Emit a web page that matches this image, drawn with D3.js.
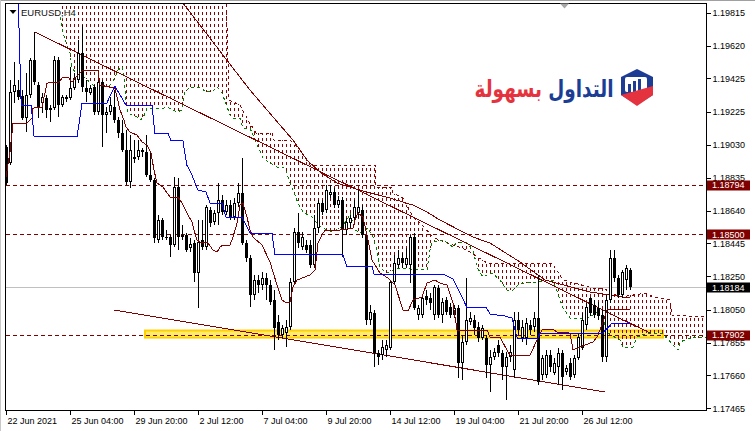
<!DOCTYPE html>
<html><head><meta charset="utf-8">
<script src="https://cdn.jsdelivr.net/npm/d3@7"></script>
<style>
html,body{margin:0;padding:0;background:#fff;}
svg{display:block;}
</style></head><body>
<svg id="c" width="755" height="431"></svg>
<script>
// ---------- data (EURUSD H4) ----------
const openP=[1.19017,1.18922,1.19344,1.19355,1.19320,1.19189,1.19326,1.19534,1.19385,1.19278,1.19308,1.19237,1.19248,1.19534,1.19266,1.19314,1.19308,1.19367,1.19415,1.19575,1.19367,1.19338,1.19373,1.19225,1.19403,1.19207,1.19225,1.19254,1.19177,1.19100,1.18999,1.18809,1.18952,1.18957,1.18999,1.18987,1.18851,1.18821,1.18464,1.18583,1.18482,1.18482,1.18435,1.18779,1.18494,1.18494,1.18417,1.18447,1.18268,1.18464,1.18423,1.18643,1.18571,1.18625,1.18702,1.18631,1.18672,1.18601,1.18684,1.18744,1.18447,1.18358,1.18138,1.18227,1.18197,1.18239,1.18197,1.18108,1.17977,1.17900,1.17912,1.17948,1.18215,1.18512,1.18423,1.18435,1.18435,1.18316,1.18536,1.18684,1.18643,1.18732,1.18750,1.18672,1.18702,1.18524,1.18565,1.18595,1.18625,1.18643,1.18494,1.17989,1.18031,1.17793,1.17781,1.17811,1.17823,1.18215,1.18316,1.18358,1.18316,1.18316,1.18482,1.18019,1.18019,1.18132,1.18120,1.18019,1.18179,1.18019,1.18108,1.18066,1.18019,1.18061,1.17734,1.17859,1.17977,1.17989,1.17948,1.17882,1.17882,1.17722,1.17769,1.17841,1.17793,1.17710,1.17769,1.17692,1.17989,1.17882,1.17882,1.17960,1.17948,1.18001,1.17662,1.17662,1.17781,1.17674,1.17710,1.17793,1.17680,1.17734,1.17662,1.17763,1.17823,1.17960,1.18120,1.18078,1.18061,1.18019,1.17769,1.18108,1.18358,1.18239,1.18138,1.18227,1.18286];
const highP=[1.19029,1.19415,1.19522,1.19415,1.19355,1.19456,1.19545,1.19700,1.19403,1.19338,1.19326,1.19266,1.19557,1.19551,1.19326,1.19326,1.19492,1.19456,1.19652,1.19742,1.19415,1.19385,1.19385,1.19415,1.19415,1.19254,1.19314,1.19355,1.19195,1.19177,1.19118,1.19088,1.19058,1.19058,1.19011,1.19088,1.18981,1.18833,1.18613,1.18595,1.18524,1.18494,1.18839,1.18833,1.18554,1.18506,1.18476,1.18464,1.18583,1.18583,1.18672,1.18660,1.18643,1.18803,1.18732,1.18702,1.18702,1.18714,1.18803,1.18952,1.18464,1.18375,1.18257,1.18257,1.18274,1.18268,1.18227,1.18167,1.18019,1.17960,1.17989,1.18239,1.18536,1.18625,1.18512,1.18464,1.18464,1.18613,1.18702,1.18702,1.18791,1.18791,1.18773,1.18726,1.18720,1.18595,1.18613,1.18702,1.18761,1.18672,1.18506,1.18078,1.18049,1.17811,1.17870,1.17870,1.18227,1.18375,1.18405,1.18387,1.18417,1.18494,1.18506,1.18078,1.18138,1.18167,1.18150,1.18197,1.18197,1.18120,1.18126,1.18090,1.18078,1.18078,1.17900,1.18239,1.18037,1.18019,1.17977,1.17960,1.17900,1.17811,1.17823,1.17870,1.17811,1.17799,1.17841,1.18037,1.18037,1.17989,1.18001,1.17989,1.18037,1.18257,1.17781,1.17811,1.17811,1.17763,1.17823,1.17811,1.17722,1.17763,1.17781,1.17912,1.18031,1.18090,1.18126,1.18108,1.18096,1.18049,1.18138,1.18405,1.18405,1.18257,1.18286,1.18316,1.18298];
const lowP=[1.18791,1.18910,1.19278,1.19296,1.19177,1.19106,1.19308,1.19385,1.19189,1.19219,1.19189,1.19165,1.19237,1.19195,1.19254,1.19284,1.19296,1.19355,1.19397,1.19344,1.19284,1.19326,1.19207,1.19207,1.19017,1.19100,1.19207,1.19159,1.19070,1.18987,1.18791,1.18773,1.18922,1.18940,1.18957,1.18839,1.18809,1.18447,1.18447,1.18464,1.18464,1.18363,1.18423,1.18405,1.18464,1.18393,1.18393,1.18215,1.18061,1.18405,1.18405,1.18542,1.18554,1.18554,1.18613,1.18613,1.18583,1.18583,1.18660,1.18435,1.18334,1.18066,1.18108,1.18150,1.18167,1.18108,1.18078,1.17811,1.17870,1.17882,1.17829,1.17930,1.18197,1.18417,1.18405,1.18387,1.18298,1.18298,1.18506,1.18613,1.18625,1.18714,1.18655,1.18655,1.18363,1.18494,1.18536,1.18571,1.18595,1.18476,1.17960,1.17960,1.17710,1.17722,1.17752,1.17769,1.17811,1.18197,1.18298,1.18298,1.18298,1.18209,1.18049,1.17989,1.18001,1.18078,1.18049,1.17989,1.18001,1.17971,1.18019,1.18001,1.18001,1.17645,1.17633,1.17841,1.17960,1.17900,1.17859,1.17870,1.17645,1.17562,1.17752,1.17769,1.17633,1.17514,1.17740,1.17645,1.17900,1.17859,1.17841,1.17900,1.17918,1.17603,1.17633,1.17645,1.17680,1.17662,1.17603,1.17573,1.17662,1.17633,1.17645,1.17752,1.17811,1.17930,1.18013,1.18001,1.17989,1.17740,1.17740,1.18090,1.18215,1.18120,1.18120,1.18167,1.18167];
const closeP=[1.18803,1.19344,1.19385,1.19314,1.19189,1.19326,1.19534,1.19403,1.19248,1.19314,1.19237,1.19248,1.19534,1.19266,1.19314,1.19302,1.19367,1.19427,1.19575,1.19373,1.19344,1.19367,1.19225,1.19403,1.19207,1.19225,1.19266,1.19177,1.19100,1.18999,1.18809,1.18999,1.18957,1.18999,1.18987,1.18851,1.18821,1.18476,1.18583,1.18482,1.18476,1.18435,1.18779,1.18482,1.18482,1.18405,1.18441,1.18268,1.18453,1.18423,1.18660,1.18565,1.18625,1.18702,1.18631,1.18672,1.18601,1.18684,1.18744,1.18447,1.18358,1.18138,1.18227,1.18197,1.18239,1.18197,1.18096,1.17942,1.17900,1.17942,1.17948,1.18215,1.18512,1.18447,1.18482,1.18405,1.18316,1.18536,1.18684,1.18631,1.18761,1.18750,1.18672,1.18702,1.18524,1.18571,1.18595,1.18660,1.18660,1.18494,1.17989,1.18037,1.17793,1.17769,1.17829,1.17841,1.18215,1.18328,1.18358,1.18328,1.18358,1.18482,1.18061,1.18061,1.18120,1.18108,1.18090,1.18185,1.18019,1.18096,1.18037,1.18019,1.18061,1.17734,1.17859,1.17989,1.18001,1.17942,1.17882,1.17942,1.17722,1.17769,1.17799,1.17793,1.17710,1.17769,1.17799,1.17989,1.17930,1.17948,1.17971,1.17930,1.18001,1.17621,1.17763,1.17781,1.17710,1.17734,1.17793,1.17651,1.17704,1.17651,1.17763,1.17888,1.17989,1.18066,1.18031,1.18019,1.18013,1.17769,1.18108,1.18358,1.18239,1.18138,1.18274,1.18298,1.18185];

// Ichimoku lines: [bar index, price]
const tenkan=[[0,1.18839],[1,1.18987],[1.75,1.19159],[5.25,1.19159],[6.5,1.19189],[6.75,1.19248],[9,1.19254],[10.25,1.19397],[13.25,1.19403],[14,1.19427],[15.5,1.19433],[16.5,1.19403],[17.25,1.19427],[19.25,1.19474],[23,1.19474],[23.5,1.19385],[26,1.19373],[27.25,1.19367],[27.75,1.19314],[28.5,1.19237],[29.5,1.19177],[30,1.19136],[31,1.19106],[32.75,1.19088],[34,1.19047],[35.25,1.19029],[36.25,1.18981],[37,1.18880],[37.75,1.18803],[39.25,1.18779],[41,1.18720],[43,1.18720],[44,1.18684],[45.25,1.18625],[46.5,1.18571],[47,1.18524],[47.75,1.18464],[48.5,1.18453],[50.5,1.18447],[51.75,1.18405],[52.75,1.18393],[53.5,1.18423],[54.25,1.18435],[56,1.18435],[56.75,1.18482],[57.75,1.18565],[58.5,1.18672],[59.25,1.18684],[60.25,1.18601],[61,1.18524],[61.75,1.18482],[64,1.18435],[66,1.18334],[67.75,1.18197],[69,1.18108],[70.25,1.18090],[71,1.18096],[71.75,1.18185],[72.75,1.18227],[76,1.18257],[77.25,1.18286],[78,1.18447],[79,1.18494],[79.75,1.18524],[83.5,1.18524],[86.75,1.18536],[87.25,1.18583],[88,1.18625],[89.25,1.18601],[90.25,1.18494],[91.5,1.18346],[93.5,1.18268],[95.5,1.18239],[97.25,1.18197],[99.25,1.18049],[100.5,1.18043],[101.75,1.18108],[104,1.18126],[105.25,1.18209],[107.25,1.18227],[108.5,1.18209],[110.25,1.18197],[111.75,1.18090],[112.75,1.17930],[114.25,1.17930],[120.25,1.17930],[121,1.17888],[123.5,1.17888],[125.25,1.17811],[126,1.17781],[131,1.17781],[132.75,1.17870],[134,1.17930],[136.75,1.17936],[137.75,1.17918],[141,1.17912],[141.75,1.17811],[143.5,1.17829],[146.75,1.17859],[147.75,1.17888],[149,1.17960],[150.25,1.18049],[156,1.18049]];
const kijun=[[0,1.20009],[3,1.19938],[3.8,1.19266],[6.3,1.19266],[7,1.19082],[17.8,1.19082],[19,1.19278],[25.2,1.19278],[27.2,1.19379],[30,1.19266],[36.5,1.19266],[37.2,1.19100],[40.5,1.19100],[41.2,1.19058],[44.2,1.19058],[45.2,1.18910],[46.2,1.18868],[48,1.18761],[50,1.18750],[51,1.18684],[54,1.18684],[55,1.18601],[59,1.18601],[61,1.18506],[66.5,1.18506],[67.2,1.18381],[84.2,1.18381],[85.2,1.18310],[91.5,1.18310],[92,1.18262],[109.2,1.18262],[111.8,1.18233],[115.2,1.18066],[120,1.18066],[121,1.18025],[124.8,1.18013],[126.5,1.18001],[127.8,1.17882],[133,1.17882],[133.5,1.17912],[149.2,1.17912],[151.5,1.17971],[156,1.17971]];
const spanA=[[13.5,1.19789],[14.25,1.19694],[15.25,1.19623],[16,1.19575],[16.5,1.19492],[17.25,1.19462],[18,1.19456],[19,1.19433],[19.75,1.19427],[21.75,1.19385],[23.5,1.19373],[26,1.19385],[27.25,1.19427],[28,1.19474],[29,1.19492],[29.5,1.19433],[30,1.19266],[30.5,1.19219],[32.75,1.19195],[33.5,1.19177],[34.25,1.19189],[35.25,1.19248],[39.25,1.19248],[40.25,1.19254],[42.75,1.19225],[44,1.19237],[44.75,1.19344],[46,1.19373],[49,1.19373],[49.75,1.19344],[51.5,1.19344],[52.75,1.19373],[54,1.19338],[56,1.19207],[56.75,1.19189],[58.5,1.19189],[59.25,1.19130],[61,1.19130],[62.25,1.19058],[64.25,1.18952],[66,1.18922],[67.75,1.18898],[69.75,1.18892],[71,1.18803],[71.75,1.18761],[73,1.18684],[74.25,1.18631],[76.5,1.18601],[77.75,1.18565],[79,1.18536],[81.75,1.18512],[83.5,1.18536],[85.25,1.18583],[86,1.18625],[87.25,1.18524],[89,1.18506],[90.5,1.18536],[91.75,1.18482],[92.75,1.18405],[93.5,1.18298],[95.25,1.18268],[97.75,1.18298],[105.25,1.18286],[106,1.18405],[106.5,1.18453],[109.25,1.18464],[111.75,1.18423],[112.75,1.18453],[115.25,1.18447],[116.75,1.18405],[117.75,1.18304],[119.25,1.18245],[121.5,1.18268],[123.5,1.18227],[125.25,1.18167],[126.75,1.18167],[128.5,1.18209],[130.25,1.18209],[136.75,1.18227],[139.25,1.18061],[141,1.18001],[145.25,1.18001],[146.75,1.18019],[149,1.18049],[149.75,1.17948],[151,1.17900],[153.5,1.17870],[154.25,1.17829],[156.75,1.17829],[157.75,1.17888],[160.25,1.17912],[164,1.17912],[168,1.17811],[168.5,1.17859],[171,1.17882],[175,1.17888]];
const spanB=[[13.5,1.19949],[55,1.19949],[55.75,1.19296],[58.5,1.19266],[60.5,1.19177],[62.5,1.19100],[66.5,1.19100],[67,1.19058],[71,1.19058],[73.5,1.18999],[76,1.18910],[92.25,1.18910],[92.5,1.18779],[96.5,1.18779],[96.75,1.18744],[99.25,1.18714],[101.75,1.18601],[104,1.18554],[106.75,1.18482],[108.5,1.18464],[115.25,1.18405],[120.25,1.18328],[136.5,1.18328],[139.25,1.18227],[146.75,1.18179],[149.25,1.18179],[153.5,1.18126],[160.25,1.18150],[161.75,1.18126],[166,1.18108],[166.5,1.18019],[175,1.18007]];
const movingAvg=[[42.5,1.19926],[61,1.19355],[71.75,1.19058],[75.25,1.18940],[78.5,1.18868],[82.75,1.18803],[88.5,1.18761],[96,1.18714],[101.75,1.18672],[105.25,1.18631],[108.5,1.18583],[116.75,1.18482],[121,1.18447],[128.5,1.18334],[134.75,1.18227],[146,1.18156],[156,1.18120]];
const trendUpper=[[7.25,1.19700],[161,1.17912]];
const trendLower=[[27,1.18049],[149.75,1.17562]];
const bandRange=[34.75,164.25];
const bandPrices=[1.17927,1.17885];
const levels=[1.18794,1.18500,1.17902];
const bidPrice=1.18184;
const priceTicks=["1.19815","1.19620","1.19425","1.19225","1.19030","1.18835","1.18640","1.18445","1.18250","1.18050","1.17855","1.17660","1.17465"];
const timeTickIdx=[0,16,32,48,64,80,96,112,128,144];
const timeTickLabels=["22 Jun 2021","25 Jun 04:00","29 Jun 20:00","2 Jul 12:00","7 Jul 04:00","9 Jul 20:00","14 Jul 12:00","19 Jul 04:00","21 Jul 20:00","26 Jul 12:00"];
const symbolTitle="EURUSD,H4";
const logoText="التداول بسهولة";

// ---------- drawing ----------
const MAROON="#800000";
const FONT="'Liberation Sans',Arial,sans-serif";
const svg=d3.select("#c");
const xs=d3.scaleLinear().domain([0,156]).range([6,630]);
const ys=d3.scaleLinear().domain([1.19815,1.17465]).range([12.7,408.3]);
const line=d3.line().x(d=>xs(d[0])).y(d=>ys(d[1]));

svg.append("rect").attr("width",755).attr("height",431).attr("fill","#fff");
const defs=svg.append("defs");
defs.append("clipPath").attr("id","plot").append("rect").attr("x",6).attr("y",4).attr("width",700).attr("height",406);
const pat=defs.append("pattern").attr("id","hatch").attr("patternUnits","userSpaceOnUse")
  .attr("x",6).attr("y",0).attr("width",4).attr("height",6);
pat.append("rect").attr("x",0).attr("y",0).attr("width",1).attr("height",3).attr("fill","#8b0000");
const grad=defs.append("linearGradient").attr("id","logoGrad").attr("gradientUnits","userSpaceOnUse")
  .attr("x1",470).attr("x2",620).attr("y1",0).attr("y2",0);
const split=(546-470)/(620-470);
grad.append("stop").attr("offset",0).attr("stop-color","#e4333f");
grad.append("stop").attr("offset",split).attr("stop-color","#e4333f");
grad.append("stop").attr("offset",split).attr("stop-color","#1d3c93");
grad.append("stop").attr("offset",1).attr("stop-color","#1d3c93");

// window borders
svg.append("line").attr("x1",0).attr("x2",755).attr("y1",0.5).attr("y2",0.5).attr("stroke","#a0a0a0");
svg.append("line").attr("x1",0.5).attr("x2",0.5).attr("y1",0).attr("y2",431).attr("stroke","#c8c8c8");

const g=svg.append("g").attr("clip-path","url(#plot)");

// yellow band
g.append("rect").attr("x",xs(bandRange[0])).attr("width",xs(bandRange[1])-xs(bandRange[0]))
  .attr("y",ys(bandPrices[0])).attr("height",ys(bandPrices[1])-ys(bandPrices[0]))
  .attr("fill","#ffec6a").attr("stroke","#ffd000").attr("stroke-width",2);

// cloud
const poly=spanB.concat(spanA.slice().reverse()).map(d=>[xs(d[0]),ys(d[1])]);
g.append("path").attr("d",d3.line()(poly)+"Z").attr("fill","url(#hatch)").attr("shape-rendering","crispEdges");
g.append("path").attr("d",line(spanB)).attr("fill","none").attr("stroke","#8b0000").attr("stroke-dasharray","3,3").attr("shape-rendering","crispEdges");
g.append("path").attr("d",line(spanA)).attr("fill","none").attr("stroke","#008000").attr("stroke-dasharray","3,3").attr("shape-rendering","crispEdges");

// horizontal levels
levels.forEach(v=>{
  const y=Math.round(ys(v))+0.5;
  g.append("line").attr("x1",6).attr("x2",706).attr("y1",y).attr("y2",y)
   .attr("stroke",MAROON).attr("stroke-dasharray","4,3");
});
{
  const y=Math.round(ys(bidPrice))+0.5;
  g.append("line").attr("x1",6).attr("x2",706).attr("y1",y).attr("y2",y).attr("stroke","#c0c0c0");
}

// trend lines & MA
[trendUpper,trendLower,movingAvg].forEach(d=>{
  g.append("path").attr("d",line(d)).attr("fill","none").attr("stroke",MAROON).attr("stroke-width",1).attr("shape-rendering","crispEdges");
});

// candles
const cg=g.append("g").attr("shape-rendering","crispEdges");
openP.forEach((o,i)=>{
  const c=closeP[i],h=highP[i],l=lowP[i];
  const x=Math.round(xs(i));
  const yh=Math.round(ys(h)),yl=Math.round(ys(l));
  cg.append("rect").attr("x",x).attr("y",yh).attr("width",1).attr("height",Math.max(1,yl-yh)).attr("fill","#000");
  const yt=Math.round(ys(Math.max(o,c))),yb=Math.round(ys(Math.min(o,c)));
  if(c>o){
    if(yb-yt>=2){
      cg.append("rect").attr("x",x-1+0.5).attr("y",yt+0.5).attr("width",2).attr("height",yb-yt-1)
        .attr("fill","#fff").attr("stroke","#000").attr("stroke-width",1);
    } else {
      cg.append("rect").attr("x",x-1).attr("y",yt).attr("width",3).attr("height",Math.max(1,yb-yt+1)).attr("fill","#000");
    }
  } else {
    cg.append("rect").attr("x",x-1).attr("y",yt).attr("width",3).attr("height",Math.max(1,yb-yt)).attr("fill","#000");
  }
});

// ichimoku lines
g.append("path").attr("d",line(tenkan)).attr("fill","none").attr("stroke",MAROON).attr("shape-rendering","crispEdges");
g.append("path").attr("d",line(kijun)).attr("fill","none").attr("stroke","#0000ff").attr("shape-rendering","crispEdges");

// plot frame
svg.append("rect").attr("x",5.5).attr("y",3.5).attr("width",701).attr("height",407)
  .attr("fill","none").attr("stroke","#000").attr("shape-rendering","crispEdges");

// axes
const ya=svg.append("g").attr("transform","translate(706.5,0)")
  .call(d3.axisRight(ys).tickValues(priceTicks.map(Number)).tickFormat((d,k)=>priceTicks[k]).tickSize(4).tickPadding(2));
ya.select(".domain").remove();
ya.selectAll("text").attr("font-family",FONT).attr("font-size",9).attr("fill","#000");
ya.selectAll("line").attr("stroke","#000").attr("shape-rendering","crispEdges");

const xa=svg.append("g").attr("transform","translate(0,410.5)")
  .call(d3.axisBottom(xs).tickValues(timeTickIdx).tickFormat((d,k)=>timeTickLabels[k]).tickSize(4).tickPadding(3));
xa.select(".domain").remove();
xa.selectAll("text").attr("font-family",FONT).attr("font-size",9).attr("fill","#000").attr("text-anchor","start").attr("x",1);
xa.selectAll("line").attr("stroke","#000").attr("shape-rendering","crispEdges");

// price labels
function priceBox(v,bg){
  const y=ys(v);
  svg.append("rect").attr("x",707).attr("y",Math.round(y)-4.5).attr("width",43).attr("height",10).attr("fill",bg);
  svg.append("text").attr("x",712).attr("y",y+0.5).attr("dy","0.33em").attr("font-family",FONT).attr("font-size",9)
    .attr("fill","#fff").text(v.toFixed(5));
}
priceBox(levels[0],MAROON);
priceBox(levels[1],MAROON);
priceBox(bidPrice,"#000");
priceBox(levels[2],MAROON);

// title
svg.append("path").attr("d","M9.5,10 L16.5,10 L13,14 Z").attr("fill","#000");
svg.append("text").attr("x",21).attr("y",15.5).attr("font-family",FONT).attr("font-size",9.5)
  .attr("fill","#111").attr("stroke","#fff").attr("stroke-width",2).attr("paint-order","stroke")
  .attr("stroke-linejoin","round").text(symbolTitle);
// shift marker
svg.append("path").attr("d","M560,3.5 L569,3.5 L564.5,8.5 Z").attr("fill","#a8a8a8");

// logo
const logo=svg.append("g");
logo.append("text").attr("x",544).attr("y",97).attr("text-anchor","middle")
  .attr("font-family","'DejaVu Sans',sans-serif").attr("font-weight","bold").attr("font-size",24)
  .attr("textLength",139).attr("lengthAdjust","spacingAndGlyphs").attr("fill","url(#logoGrad)").text(logoText);
logo.append("path").attr("d","M637,69 L653,77 L653,95 L637,105 L621,95 L621,77 Z").attr("fill","#1d3c93");
logo.append("rect").attr("x",625).attr("y",77).attr("width",22).attr("height",15).attr("rx",2).attr("fill","#fff");
[[628,84],[633,81],[638,79]].forEach(b=>logo.append("rect").attr("x",b[0]).attr("y",b[1]).attr("width",3).attr("height",92-b[1]).attr("fill","#1d3c93"));
logo.append("path").attr("d","M621,95 L653,86 L653,95 L637,106 Z").attr("fill","#e4333f");
</script>
</body></html>
